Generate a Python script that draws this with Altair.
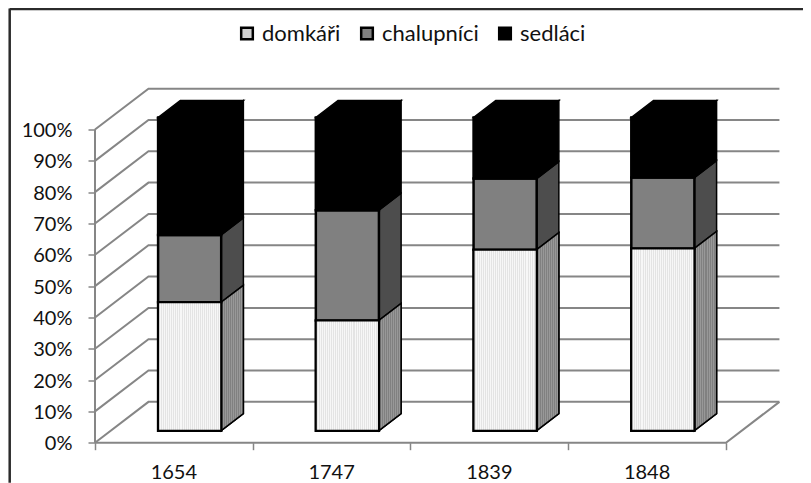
import altair as alt
import pandas as pd

years = ["1654", "1747", "1839", "1848"]
series = ["domkáři", "chalupníci", "sedláci"]
domkari = [41.0, 35.2, 57.8, 58.2]
chalupnici = [21.5, 35.2, 22.7, 22.6]
sedlaci = [37.5, 29.6, 19.5, 19.2]
front_colors = ["#d0d0d0", "#808080", "#000000"]
side_colors = ["#8c8c8c", "#4d4d4d", "#000000"]
pct_ticks = [0, 10, 20, 30, 40, 50, 60, 70, 80, 90, 100]

# oblique projection of the 3-D chart: one unit of depth moves x by DX
# categories and y by DY percent
DX, DY = 0.339, 13.05
BAR_W = 0.4
D0, D1 = 0.295, 0.71
XMAX = len(years) + DX + 0.01
YMAX = 100 + DY + 0.05
W, H = 686, 354.2
GRID = "#868686"
FONT = "Lato"


def px(cat, depth):
    return cat + depth * DX


def py(pct, depth):
    return pct + depth * DY


def stripes(a, b, n):
    stops = []
    for j in range(n):
        stops.append({"offset": j / n, "color": a})
        stops.append({"offset": (j + 0.5) / n, "color": a})
        stops.append({"offset": (j + 0.5) / n, "color": b})
        stops.append({"offset": (j + 1) / n, "color": b})
    return {"gradient": "linear", "x1": 0, "y1": 0, "x2": 1, "y2": 0, "stops": stops}


grid_rows = []
for p in pct_ticks:
    grid_rows += [
        {"k": p, "o": 0, "x": px(0, 0), "y": py(p, 0)},
        {"k": p, "o": 1, "x": px(0, 1), "y": py(p, 1)},
        {"k": p, "o": 2, "x": px(len(years), 1), "y": py(p, 1)},
    ]
grid_rows += [
    {"k": "front", "o": 0, "x": px(0, 0), "y": 0},
    {"k": "front", "o": 1, "x": px(len(years), 0), "y": 0},
    {"k": "front", "o": 2, "x": px(len(years), 1), "y": py(0, 1)},
    {"k": "left", "o": 0, "x": 0, "y": 0},
    {"k": "left", "o": 1, "x": 0, "y": 100},
]
grid_df = pd.DataFrame(grid_rows).astype({"k": str})

front, side, top = [], [], []
for i, y in enumerate(years):
    base = 0
    left = i + 0.5 - BAR_W / 2
    right = i + 0.5 + BAR_W / 2
    for s, vals, fc, sc in zip(series, [domkari, chalupnici, sedlaci], front_colors, side_colors):
        v0, v1 = base, base + vals[i]
        base = v1
        front.append({"s": s, "x": px(left, D0), "x2": px(right, D0), "y": py(v0, D0), "y2": py(v1, D0)})
        side.append({"k": f"{y}{s}", "s": s, "o": 0, "c": sc, "x": px(right, D0), "y": py(v0, D0), "y2": py(v1, D0)})
        side.append({"k": f"{y}{s}", "s": s, "o": 1, "c": sc, "x": px(right, D1), "y": py(v0, D1), "y2": py(v1, D1)})
    t0, t1 = py(100, D0), py(100, D1)
    top += [
        {"k": y, "x": px(left, D0), "y": t0, "y2": t0},
        {"k": y, "x": px(left, D1), "y": t0, "y2": t1},
        {"k": y, "x": px(right, D0), "y": t0, "y2": t1},
        {"k": y, "x": px(right, D1), "y": t1, "y2": t1},
    ]
front_df = pd.DataFrame(front)
side_df = pd.DataFrame(side)

xs = alt.Scale(domain=[0, XMAX], nice=False, zero=False)
ys = alt.Scale(domain=[0, YMAX], nice=False, zero=False)
x_axis = alt.Axis(
    values=list(range(len(years) + 1)), labels=False, title=None, domain=False, grid=False,
    tickColor=GRID, tickWidth=1.5, tickSize=7)
y_axis = alt.Axis(
    values=pct_ticks, labelExpr="datum.value + '%'", title=None, domain=False, grid=False,
    tickColor=GRID, tickWidth=1.5, tickSize=7, labelPadding=16, labelOffset=1, labelFont=FONT,
    labelFontSize=20, labelColor="#111111")
X = alt.X("x:Q", scale=xs, axis=x_axis)
Y = alt.Y("y:Q", scale=ys, axis=y_axis)

grid = alt.Chart(grid_df).mark_line(color=GRID, strokeWidth=2).encode(
    x=X, y=Y, detail="k:N", order="o:Q")

sides = alt.Chart(side_df).mark_area(stroke="black", strokeWidth=1.5).encode(
    x=X, y=Y, y2="y2:Q", detail="k:N", fill=alt.Fill("c:N", scale=None))

side_stipple = alt.Chart(side_df[side_df["s"] == series[0]]).mark_area(
    color=stripes("#989898", "#808080", 11), stroke="black", strokeWidth=1.5).encode(
    x=X, y=Y, y2="y2:Q", detail="k:N")

tops = alt.Chart(pd.DataFrame(top)).mark_area(color="black", stroke="black", strokeWidth=1.5).encode(
    x=X, y=Y, y2="y2:Q", detail="k:N")

fronts = alt.Chart(front_df).mark_rect(stroke="black", strokeWidth=2.5).encode(
    x=X, x2="x2:Q", y=Y, y2="y2:Q",
    color=alt.Color("s:N", scale=alt.Scale(domain=series, range=front_colors), legend=alt.Legend(
        orient="none", legendX=141, legendY=-66, direction="horizontal", columns=3, title=None,
        symbolType="square", symbolSize=135, symbolStrokeColor="black", symbolStrokeWidth=2.5,
        labelFont=FONT, labelFontSize=22, labelColor="#111111", columnPadding=15, labelOffset=4)))

stipple = alt.Chart(front_df[front_df["s"] == series[0]]).mark_rect(
    color=stripes("#f7f7f7", "#e4e4e4", 31), stroke="black", strokeWidth=2).encode(
    x=X, x2="x2:Q", y=Y, y2="y2:Q")

year_df = pd.DataFrame({"x": [i + 0.5 for i in range(len(years))], "t": years})
year_text = alt.Chart(year_df).mark_text(font=FONT, fontSize=20, color="#111111", baseline="middle").encode(
    x=X, y=alt.value(384.5), text="t:N")

frame_left = alt.Chart(pd.DataFrame({"a": [0]})).mark_rule(color="#2b2b2b", strokeWidth=2.5).encode(
    x=alt.value(-85.3), y=alt.value(-80), y2=alt.value(H + 40))
frame_top = alt.Chart(pd.DataFrame({"a": [0]})).mark_rule(color="#2b2b2b", strokeWidth=2.5).encode(
    x=alt.value(-85.3), x2=alt.value(W + 30), y=alt.value(-79.5))

chart = alt.layer(grid, sides, side_stipple, tops, fronts, stipple, year_text, frame_left, frame_top).properties(
    width=W, height=H, padding={"left": 87, "top": 80.5, "right": 22, "bottom": 40.3},
    autosize=alt.AutoSizeParams(type="none"),
).configure_view(stroke=None)

chart.save("out.html", embed_options={"renderer": "svg", "actions": False})
